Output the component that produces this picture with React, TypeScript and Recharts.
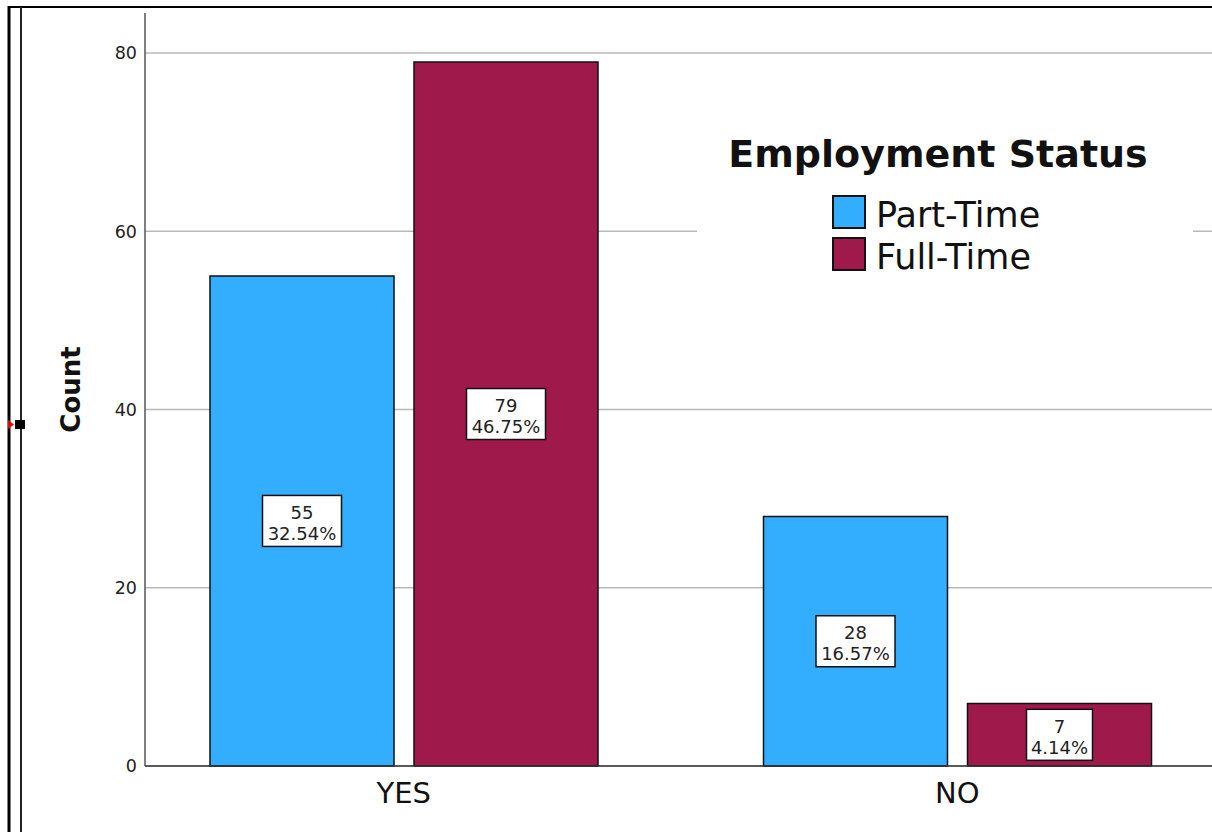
import React from "react";
import { BarChart, Bar, XAxis, YAxis, CartesianGrid, LabelList } from "recharts";

const categories = ["YES", "NO"];
const partTime = [55, 28];
const fullTime = [79, 7];
const yTicks = [0, 20, 40, 60, 80];
const seriesNames = ["Part-Time", "Full-Time"];
const seriesColors = ["#33aeff", "#a0194b"];
const legendTitle = "Employment Status";
const yTitle = "Count";

const data = categories.map((name, i) => ({ name, part: partTime[i], full: fullTime[i] }));
const total = [...partTime, ...fullTime].reduce((a, b) => a + b, 0);

const FONT = "'DejaVu Sans', sans-serif";

// white box with count + percent of total, centred in the bar
function BoxLabel(props: any) {
  const { x, y, width, height, value } = props;
  const cx = Number(x) + Number(width) / 2;
  const cy = Number(y) + Number(height) / 2;
  const pct = ((Number(value) / total) * 100).toFixed(2) + "%";
  const w = pct.length * 13 + 1;
  const h = 51;
  return (
    <g>
      <rect x={cx - w / 2} y={cy - h / 2} width={w} height={h} fill="#fff" stroke="#111" strokeWidth={1.5} />
      <text x={cx} y={cy - 2} textAnchor="middle" fontFamily={FONT} fontSize={18} fill="#222">
        {value}
      </text>
      <text x={cx} y={cy + 19} textAnchor="middle" fontFamily={FONT} fontSize={18} fill="#222">
        {pct}
      </text>
    </g>
  );
}

function YTitle(props: any) {
  const vb = props.viewBox || {};
  const cy = (vb.y ?? 0) + (vb.height ?? 0) / 2;
  return (
    <text
      transform={`translate(80, ${cy}) rotate(-90)`}
      textAnchor="middle"
      fontFamily={FONT}
      fontWeight="bold"
      fontSize={26}
      fill="#111"
    >
      {yTitle}
    </text>
  );
}

export default function App() {
  return (
    <div
      style={{
        position: "fixed",
        left: 0,
        top: 0,
        width: 1212,
        height: 832,
        overflow: "hidden",
        background: "#fff",
      }}
    >
      <BarChart
        width={1240}
        height={832}
        data={data}
        margin={{ top: 13, right: 0, bottom: 16, left: 0 }}
        barSize={184}
        barGap={20}
      >
        <CartesianGrid vertical={false} horizontalValues={yTicks} stroke="#b8b8b8" strokeWidth={1.5} />
        <XAxis
          dataKey="name"
          padding={{ left: -18, right: 6 }}
          height={50}
          axisLine={{ stroke: "#333", strokeWidth: 1.5 }}
          tickLine={false}
          tickMargin={10}
          tick={{ fontSize: 29, fill: "#111", fontFamily: FONT }}
        />
        <YAxis
          domain={[0, 84.5]}
          ticks={yTicks}
          width={145}
          axisLine={{ stroke: "#555", strokeWidth: 1.5 }}
          tickLine={false}
          tick={{ fontSize: 17.5, fill: "#222", fontFamily: FONT }}
          label={{ content: YTitle }}
        />
        <Bar dataKey="part" name={seriesNames[0]} fill={seriesColors[0]} stroke="#111" strokeWidth={1.5} isAnimationActive={false}>
          <LabelList dataKey="part" content={BoxLabel} />
        </Bar>
        <Bar dataKey="full" name={seriesNames[1]} fill={seriesColors[1]} stroke="#111" strokeWidth={1.5} isAnimationActive={false}>
          <LabelList dataKey="full" content={BoxLabel} />
        </Bar>
      </BarChart>

      <svg
        width={1212}
        height={832}
        style={{ position: "absolute", left: 0, top: 0, pointerEvents: "none" }}
      >
        {/* frame */}
        <line x1={8} y1={7} x2={1212} y2={7} stroke="#000" strokeWidth={2} />
        <line x1={9} y1={6} x2={9} y2={832} stroke="#000" strokeWidth={3} />
        <line x1={21} y1={7} x2={21} y2={832} stroke="#222" strokeWidth={2} />
        <polygon points="8,420 14,424.5 8,429" fill="#e00" />
        <rect x={15} y={420} width={10} height={9} fill="#000" />

        {/* legend */}
        <rect x={697} y={100} width={496} height={185} fill="#fff" />
        <text x={938} y={167} textAnchor="middle" fontFamily={FONT} fontWeight="bold" fontSize={38} fill="#111">
          {legendTitle}
        </text>
        {seriesNames.map((n, i) => (
          <g key={n}>
            <rect x={833} y={196 + i * 42} width={32} height={32} fill={seriesColors[i]} stroke="#111" strokeWidth={2} />
            <text x={876} y={227 + i * 42} fontFamily={FONT} fontSize={35} fill="#111">
              {n}
            </text>
          </g>
        ))}
      </svg>
    </div>
  );
}
